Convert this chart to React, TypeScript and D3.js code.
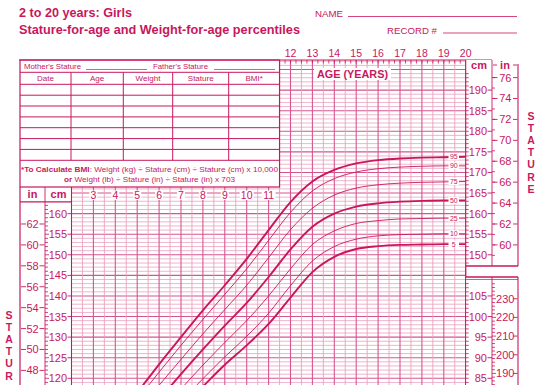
import React from "react";
import * as d3 from "d3";

// ---------- data ----------
const AGES = [2, 3, 4, 5, 6, 7, 8, 9, 10, 11, 12, 13, 14, 15, 16, 17, 18, 19, 20];
const P95 = [91.0, 101.5, 109.8, 116.5, 123.4, 130.0, 136.5, 142.6, 149.0, 156.0, 162.8, 167.8, 170.6, 172.2, 173.0, 173.4, 173.6, 173.7, 173.8];
const P90 = [89.7, 99.9, 108.0, 114.8, 121.5, 128.0, 134.3, 140.4, 146.6, 153.5, 160.3, 165.5, 168.5, 170.1, 170.9, 171.3, 171.5, 171.6, 171.6];
const P75 = [87.6, 97.4, 105.2, 111.8, 118.3, 124.6, 130.8, 136.7, 142.6, 149.3, 156.1, 161.3, 164.5, 166.2, 167.0, 167.4, 167.6, 167.7, 167.8];
const P50 = [85.3, 94.6, 102.0, 108.4, 114.8, 121.0, 127.0, 132.8, 138.3, 144.6, 151.3, 156.8, 160.0, 161.7, 162.5, 162.9, 163.1, 163.2, 163.2];
const P25 = [83.0, 91.9, 99.0, 105.2, 111.4, 117.4, 123.2, 128.7, 134.0, 140.0, 146.6, 152.5, 155.8, 157.6, 158.3, 158.7, 158.8, 158.9, 158.9];
const P10 = [81.1, 89.6, 96.4, 102.5, 108.5, 114.3, 119.9, 125.2, 130.2, 135.8, 142.5, 148.5, 152.0, 153.8, 154.6, 154.9, 155.0, 155.1, 155.1];
const P5 = [80.0, 88.2, 95.0, 101.0, 106.8, 112.6, 118.0, 123.3, 128.0, 133.2, 139.6, 145.8, 149.5, 151.4, 152.1, 152.4, 152.5, 152.6, 152.6];
const PCT_LABELS = ["5", "10", "25", "50", "75", "90", "95"];
const PCT_SERIES = [P5, P10, P25, P50, P75, P90, P95];
const THICK_PCT = ["5", "50", "95"];

const TOP_AGE_LABELS = [12, 13, 14, 15, 16, 17, 18, 19, 20];
const LOW_AGE_LABELS = [3, 4, 5, 6, 7, 8, 9, 10, 11];
const CM_LEFT = [120, 125, 130, 135, 140, 145, 150, 155, 160];
const IN_LEFT = [48, 50, 52, 54, 56, 58, 60, 62];
const CM_RIGHT = [150, 155, 160, 165, 170, 175, 180, 185, 190];
const IN_RIGHT = [60, 62, 64, 66, 68, 70, 72, 74, 76];
const KG_RIGHT = [85, 90, 95, 100, 105];
const LB_RIGHT = [190, 200, 210, 220, 230];
const TABLE_COLS = ["Date", "Age", "Weight", "Stature", "BMI*"];
const STATURE_LETTERS = ["S", "T", "A", "T", "U", "R", "E"];

// ---------- styling ----------
const MAIN = "#c8175d";
const GRID_LIGHT = "#ea9cbb";
const GRID_DARK = "#d65590";
const FONT = "'Liberation Sans', Arial, Helvetica, sans-serif";

export default function App() {
  const x = d3.scaleLinear().domain([2, 20]).range([71.5, 465.7]);
  const y = d3.scaleLinear().domain([120, 190]).range([378.3, 90.1]);
  const yKg = (kg: number) => y(kg + 35);
  const yIn = (inch: number) => y(inch * 2.54);
  const yLb = (lb: number) => yKg(lb / 2.20462);

  const gridTop = 60;
  const tableBottom = 187;
  const tableRight = x(11.5);
  const gridLeft = x(2);
  const gridRight = x(20);
  const H = 385;

  const halfYears = d3.range(2, 20.001, 0.5);
  const cmLines = d3.range(110, 200, 1);
  const quarterTicks = d3.range(11.5, 20.001, 0.25);

  const line = d3
    .line<[number, number]>()
    .x((d) => x(d[0]))
    .y((d) => y(d[1]))
    .curve(d3.curveMonotoneX);

  const colX = [20, 71, 123.3, 172.7, 228.7, tableRight];
  const rowY = [84.3, 95.2, 106.0, 116.9, 127.7, 138.6, 149.4, 160.3];

  return (
    <div style={{ position: "absolute", left: 0, top: 0 }}>
      <svg width={540} height={385} style={{ display: "block", background: "#fff" }} fontFamily={FONT}>
        <rect x={0} y={0} width={540} height={385} fill="#fff" />
        <defs>
          <clipPath id="gridclip">
            <rect x={gridLeft} y={tableBottom} width={gridRight - gridLeft} height={H - tableBottom} />
            <rect x={tableRight} y={gridTop} width={gridRight - tableRight} height={H - gridTop} />
          </clipPath>
        </defs>

        {/* Title */}
        <text x={19} y={16.5} fontSize={12.5} fontWeight="bold" fill={MAIN} textLength={113} lengthAdjust="spacingAndGlyphs">
          2 to 20 years: Girls
        </text>
        <text x={19} y={33.5} fontSize={12.5} fontWeight="bold" fill={MAIN} textLength={281} lengthAdjust="spacingAndGlyphs">
          Stature-for-age and Weight-for-age percentiles
        </text>
        <text x={315} y={17} fontSize={9} fill={MAIN} textLength={28} lengthAdjust="spacingAndGlyphs">NAME</text>
        <line x1={348} x2={517} y1={16.5} y2={16.5} stroke={MAIN} strokeWidth={0.8} />
        <text x={387} y={33.5} fontSize={9} fill={MAIN} textLength={50} lengthAdjust="spacingAndGlyphs">RECORD #</text>
        <line x1={443} x2={517} y1={33} y2={33} stroke={MAIN} strokeWidth={0.8} />

        {/* Top age labels */}
        {TOP_AGE_LABELS.map((a) => (
          <text key={"ta" + a} x={x(a)} y={57} fontSize={10.5} fill={MAIN} textAnchor="middle">
            {a}
          </text>
        ))}

        {/* Grid */}
        <g>
          {cmLines.map((c) => {
            const yy = y(c);
            if (yy < gridTop - 0.5 || yy > H + 1) return null;
            const x1 = yy < tableBottom ? tableRight : gridLeft;
            const major = c % 5 === 0;
            return (
              <line
                key={"h" + c}
                x1={x1}
                x2={gridRight}
                y1={yy}
                y2={yy}
                stroke={major ? GRID_DARK : GRID_LIGHT}
                strokeWidth={major ? 1.1 : 0.75}
              />
            );
          })}
          {halfYears.map((a) => {
            const full = Math.abs(a - Math.round(a)) < 0.01;
            const y1 = a < 11.5 ? tableBottom : gridTop;
            return (
              <line
                key={"v" + a}
                x1={x(a)}
                x2={x(a)}
                y1={y1}
                y2={H}
                stroke={full ? GRID_DARK : GRID_LIGHT}
                strokeWidth={full ? 1.1 : 0.85}
              />
            );
          })}
          {quarterTicks.map((a) => (
            <line key={"qt" + a} x1={x(a)} x2={x(a)} y1={gridTop} y2={gridTop + 3.5} stroke={MAIN} strokeWidth={0.8} />
          ))}
        </g>

        {/* AGE (YEARS) label */}
        <rect x={314} y={68} width={77} height={12} fill="#fff" />
        <text x={352.5} y={77.5} fontSize={10.5} fontWeight="bold" fill={MAIN} textAnchor="middle" textLength={71} lengthAdjust="spacingAndGlyphs">
          AGE (YEARS)
        </text>

        {/* lower age labels */}
        {LOW_AGE_LABELS.map((a) => {
          const w = a >= 10 ? 14 : 8;
          return (
            <g key={"la" + a}>
              <rect x={x(a) - w / 2} y={190.5} width={w} height={9.5} fill="#fff" />
              <text x={x(a)} y={199} fontSize={10.5} fill={MAIN} textAnchor="middle">
                {a}
              </text>
            </g>
          );
        })}

        {/* Percentile curves */}
        <g clipPath="url(#gridclip)">
          {PCT_SERIES.map((s, i) => {
            const pts = AGES.map((a, j) => [a, s[j]] as [number, number]);
            const thick = THICK_PCT.includes(PCT_LABELS[i]);
            return (
              <path
                key={"p" + i}
                d={line(pts) || ""}
                fill="none"
                stroke={MAIN}
                strokeWidth={thick ? 1.9 : 0.9}
              />
            );
          })}
        </g>
        {PCT_SERIES.map((s, i) => {
          const yy = y(s[s.length - 1]);
          return (
            <g key={"pl" + i}>
              <rect x={448.5} y={yy - 3.5} width={10.5} height={7} fill="#fff" />
              <text x={453.8} y={yy + 2.5} fontSize={7} fill={MAIN} textAnchor="middle">
                {PCT_LABELS[i]}
              </text>
            </g>
          );
        })}

        {/* Table */}
        <g stroke={MAIN} fill="none">
          <rect x={20} y={gridTop} width={tableRight - 20} height={tableBottom - gridTop} fill="#fff" strokeWidth={1.2} />
          <line x1={20} x2={tableRight} y1={72.3} y2={72.3} strokeWidth={1} />
          {rowY.map((r, i) => (
            <line key={"tr" + i} x1={20} x2={tableRight} y1={r} y2={r} strokeWidth={1} />
          ))}
          {colX.slice(1, 5).map((c, i) => (
            <line key={"tc" + i} x1={c} x2={c} y1={72.3} y2={160.3} strokeWidth={1} />
          ))}
          <line x1={86} x2={147} y1={69.5} y2={69.5} strokeWidth={0.7} />
          <line x1={214} x2={275} y1={69.5} y2={69.5} strokeWidth={0.7} />
        </g>
        <text x={24} y={69} fontSize={7.8} fill={MAIN} textLength={57} lengthAdjust="spacingAndGlyphs">Mother's Stature</text>
        <text x={153} y={69} fontSize={7.8} fill={MAIN} textLength={55} lengthAdjust="spacingAndGlyphs">Father's Stature</text>
        {TABLE_COLS.map((c, i) => (
          <text key={"th" + c} x={(colX[i] + colX[i + 1]) / 2} y={81.2} fontSize={8} fill={MAIN} textAnchor="middle">
            {c}
          </text>
        ))}
        <text x={21} y={171.5} fontSize={7.8} fill={MAIN} textLength={257} lengthAdjust="spacingAndGlyphs">
          <tspan fontWeight="bold">*To Calculate BMI</tspan>: Weight (kg) ÷ Stature (cm) ÷ Stature (cm) x 10,000
        </text>
        <text x={64} y={181.5} fontSize={7.8} fill={MAIN} textLength={171} lengthAdjust="spacingAndGlyphs">
          <tspan fontWeight="bold">or</tspan> Weight (lb) ÷ Stature (in) ÷ Stature (in) x 703
        </text>

        {/* Top border line */}
        <line x1={19} x2={492} y1={gridTop} y2={gridTop} stroke={MAIN} strokeWidth={1.2} />

        {/* Left in / cm columns */}
        <g stroke={MAIN}>
          <line x1={20} x2={20} y1={tableBottom} y2={H} strokeWidth={1.2} />
          <line x1={45} x2={45} y1={tableBottom} y2={H} strokeWidth={0.9} />
          <line x1={gridLeft} x2={gridLeft} y1={tableBottom} y2={H} strokeWidth={1} />
          <line x1={20} x2={gridLeft} y1={201.8} y2={201.8} strokeWidth={1.2} />
          {cmLines.map((c) => {
            const yy = y(c);
            if (yy < 203 || yy > H + 1) return null;
            return <line key={"lct" + c} x1={45} x2={c % 5 === 0 ? 49 : 48} y1={yy} y2={yy} strokeWidth={0.8} />;
          })}
        </g>
        <text x={32.5} y={197.5} fontSize={11} fontWeight="bold" fill={MAIN} textAnchor="middle">in</text>
        <text x={58.5} y={197.5} fontSize={11} fontWeight="bold" fill={MAIN} textAnchor="middle">cm</text>
        {CM_LEFT.map((c) => (
          <g key={"lcm" + c}>
            <text x={67} y={y(c) + 4} fontSize={11} fill={MAIN} textAnchor="end">{c}</text>
            <line x1={67.5} x2={gridLeft} y1={y(c)} y2={y(c)} stroke={MAIN} strokeWidth={0.9} />
          </g>
        ))}
        {IN_LEFT.map((v) => (
          <g key={"lin" + v}>
            <line x1={21} x2={26} y1={yIn(v)} y2={yIn(v)} stroke={MAIN} strokeWidth={0.9} />
            <text x={32.6} y={yIn(v) + 4} fontSize={11} fill={MAIN} textAnchor="middle">{v}</text>
            <line x1={39.5} x2={44.5} y1={yIn(v)} y2={yIn(v)} stroke={MAIN} strokeWidth={0.9} />
          </g>
        ))}
        {STATURE_LETTERS.slice(0, 6).map((l, i) => (
          <text key={"ls" + i} x={9} y={318.5 + i * 12.2} fontSize={10.5} fontWeight="bold" fill={MAIN} textAnchor="middle">
            {l}
          </text>
        ))}

        {/* Right upper box: stature */}
        <rect x={gridRight} y={gridTop} width={518 - gridRight} height={266 - gridTop} fill="#fff" stroke="none" />
        <g stroke={MAIN}>
          <line x1={gridRight} x2={gridRight} y1={gridTop} y2={H} strokeWidth={1.1} />
          <line x1={492} x2={492} y1={gridTop} y2={266} strokeWidth={0.9} />
          <line x1={518} x2={518} y1={gridTop + 4} y2={266} strokeWidth={1.1} />
          <line x1={gridRight} x2={518} y1={266} y2={266} strokeWidth={1.4} />
          {cmLines.map((c) => {
            const yy = y(c);
            if (yy < 72 || yy > 264) return null;
            return <line key={"rct" + c} x1={gridRight} x2={gridRight + 3} y1={yy} y2={yy} strokeWidth={0.8} />;
          })}
          {d3.range(58, 78, 1).map((v) => {
            const yy = yIn(v);
            if (yy < 72 || yy > 264) return null;
            return <line key={"rit" + v} x1={492} x2={495} y1={yy} y2={yy} strokeWidth={0.8} />;
          })}
        </g>
        <text x={479} y={69} fontSize={11} fontWeight="bold" fill={MAIN} textAnchor="middle">cm</text>
        <line x1={493} x2={497} y1={65} y2={65} stroke={MAIN} strokeWidth={0.9} />
        <text x={505} y={69} fontSize={11} fontWeight="bold" fill={MAIN} textAnchor="middle">in</text>
        <line x1={513} x2={517} y1={65} y2={65} stroke={MAIN} strokeWidth={0.9} />
        {CM_RIGHT.map((c) => (
          <g key={"rcm" + c}>
            <text x={487} y={y(c) + 4} fontSize={11} fill={MAIN} textAnchor="end">{c}</text>
            <line x1={487.5} x2={492} y1={y(c)} y2={y(c)} stroke={MAIN} strokeWidth={0.9} />
          </g>
        ))}
        {IN_RIGHT.map((v) => (
          <g key={"rin" + v}>
            <line x1={493} x2={497.5} y1={yIn(v)} y2={yIn(v)} stroke={MAIN} strokeWidth={0.9} />
            <text x={505.3} y={yIn(v) + 4} fontSize={11} fill={MAIN} textAnchor="middle">{v}</text>
            <line x1={513} x2={517.5} y1={yIn(v)} y2={yIn(v)} stroke={MAIN} strokeWidth={0.9} />
          </g>
        ))}
        {STATURE_LETTERS.map((l, i) => (
          <text key={"rs" + i} x={531} y={119.5 + i * 12.2} fontSize={10.5} fontWeight="bold" fill={MAIN} textAnchor="middle">
            {l}
          </text>
        ))}

        {/* Right lower box: weight */}
        <rect x={gridRight + 0.5} y={277} width={518 - gridRight} height={H - 277} fill="#fff" stroke="none" />
        <g stroke={MAIN}>
          <line x1={gridRight} x2={518} y1={277} y2={277} strokeWidth={1.4} />
          <line x1={gridRight} x2={518} y1={279.5} y2={279.5} strokeWidth={0.7} />
          <line x1={492} x2={492} y1={277} y2={H} strokeWidth={0.9} />
          <line x1={518} x2={518} y1={277} y2={H} strokeWidth={1.1} />
          {d3.range(80, 112, 1).map((kg) => {
            const yy = yKg(kg);
            if (yy < 282 || yy > H + 1) return null;
            return <line key={"kgt" + kg} x1={gridRight} x2={gridRight + 3} y1={yy} y2={yy} strokeWidth={0.8} />;
          })}
          {d3.range(180, 244, 2).map((lb) => {
            const yy = yLb(lb);
            if (yy < 282 || yy > H + 1) return null;
            return <line key={"lbt" + lb} x1={492} x2={lb % 10 === 0 ? 496 : 495} y1={yy} y2={yy} strokeWidth={0.8} />;
          })}
        </g>
        {KG_RIGHT.map((kg) => (
          <g key={"kg" + kg}>
            <text x={487} y={yKg(kg) + 4} fontSize={11} fill={MAIN} textAnchor="end">{kg}</text>
            <line x1={487.5} x2={492} y1={yKg(kg)} y2={yKg(kg)} stroke={MAIN} strokeWidth={0.9} />
          </g>
        ))}
        {LB_RIGHT.map((lb) => (
          <g key={"lb" + lb}>
            <text x={505.3} y={yLb(lb) + 4} fontSize={11} fill={MAIN} textAnchor="middle">{lb}</text>
            <line x1={513} x2={517.5} y1={yLb(lb)} y2={yLb(lb)} stroke={MAIN} strokeWidth={0.9} />
          </g>
        ))}
      </svg>
    </div>
  );
}
